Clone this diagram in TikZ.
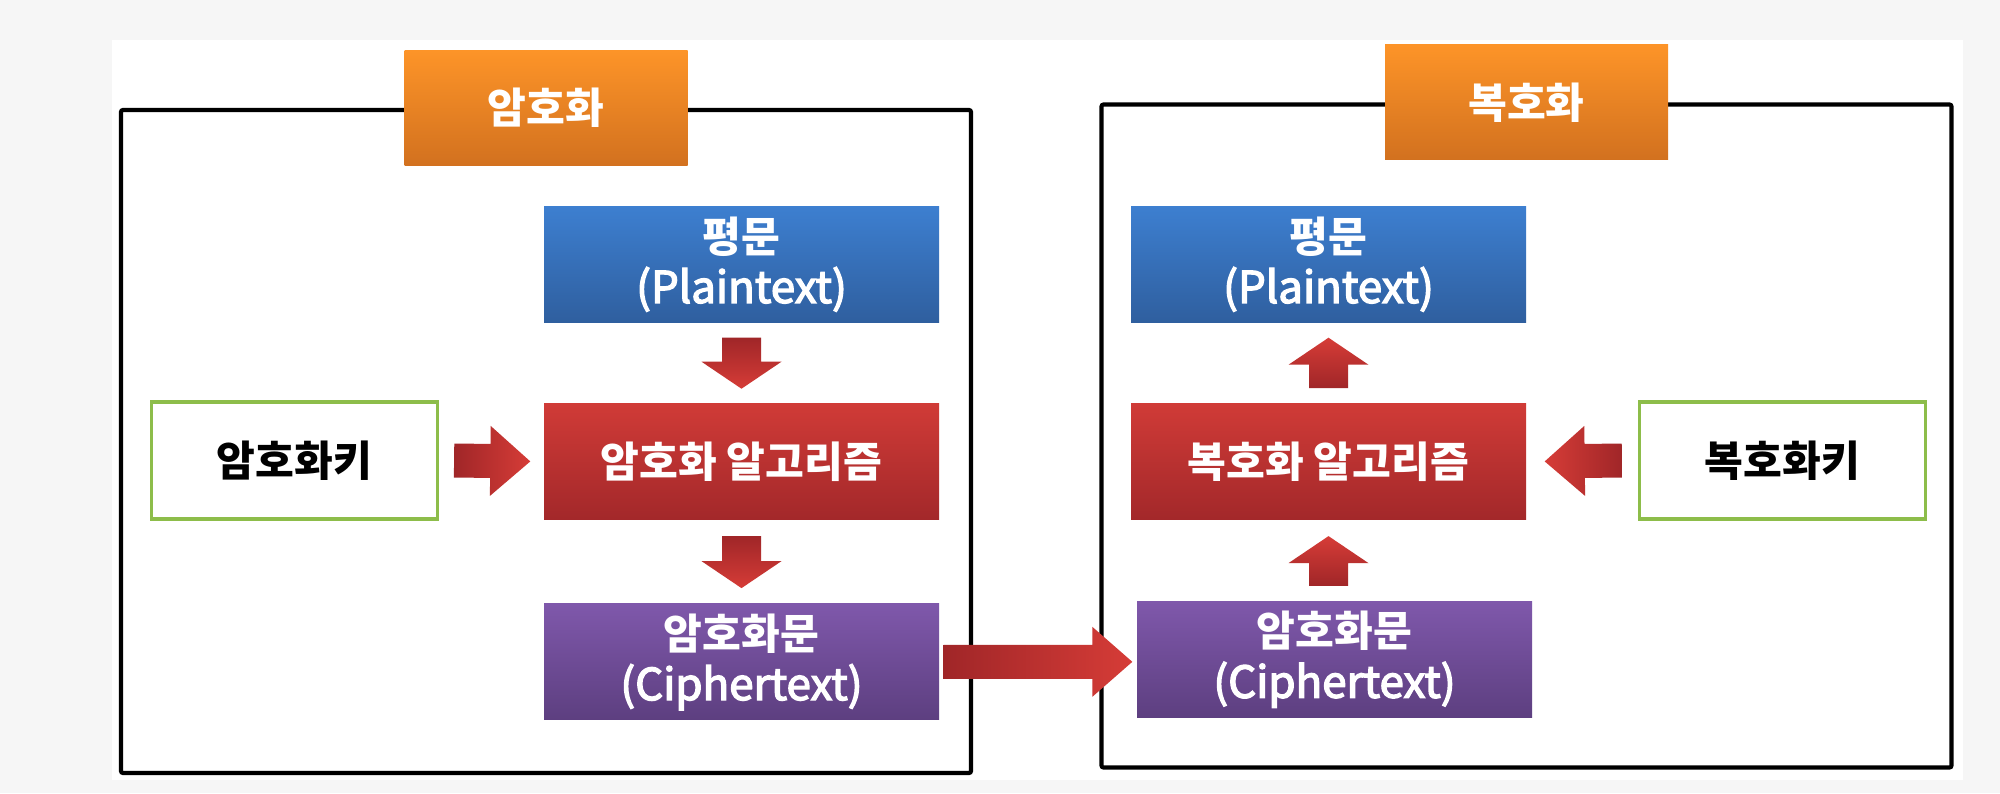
\documentclass[tikz,border=0pt]{standalone}
\usepackage{fontspec}
\newfontfamily\krfont{Noto Sans CJK KR}
\newfontfamily\latfont{Noto Sans CJK KR}[FakeBold=3]
\usepackage{xcolor}
\usepackage{tikz}
\usetikzlibrary{positioning,calc}

\definecolor{pagegray}{HTML}{F6F6F6}
\definecolor{orgtop}{HTML}{FD9428}
\definecolor{orgbot}{HTML}{D2711F}
\definecolor{blutop}{HTML}{3D7FD0}
\definecolor{blubot}{HTML}{2F5F9F}
\definecolor{redtop}{HTML}{D03B37}
\definecolor{redbot}{HTML}{A3282A}
\definecolor{purtop}{HTML}{7F58AB}
\definecolor{purbot}{HTML}{5D3F80}
\definecolor{arrdark}{HTML}{A02628}
\definecolor{arrlight}{HTML}{D63C37}
\definecolor{keygreen}{HTML}{8DBD4A}

% fat block arrow from tail #2 to tip #3, shaded with #1
\newcommand\fashaft{0.17cm}
\newcommand\fahead{0.35cm}
\newcommand\falen{0.4cm}
\newcommand\fatarrow[3]{%
  \coordinate (fa-s) at (#2);
  \coordinate (fa-e) at (#3);
  \coordinate (fa-n) at ($(fa-e)!\falen!(fa-s)$);
  \shade[#1] ($(fa-s)!\fashaft!90:(fa-e)$) -- ($(fa-n)!\fashaft!-90:(fa-s)$)
    -- ($(fa-n)!\fahead!-90:(fa-s)$) -- (fa-e) -- ($(fa-n)!\fahead!90:(fa-s)$)
    -- ($(fa-n)!\fashaft!90:(fa-s)$) -- ($(fa-s)!\fashaft!-90:(fa-e)$) -- cycle;
}
\newcommand\lat[1]{{\latfont\mdseries\fontsize{12.5}{14.5}\selectfont #1}}

\begin{document}
\begin{tikzpicture}[
  every node/.style={font=\krfont\bfseries\fontsize{12}{14.5}\selectfont},
  frame/.style={rectangle,draw=black,line width=1.2pt,rounded corners=0.6pt,
    minimum width=8.5cm,minimum height=6.63cm},
  box/.style={rectangle,inner sep=0pt,minimum width=3.95cm,minimum height=1.16cm,
    align=center,text=white},
  titlebox/.style={box,minimum width=2.83cm,minimum height=1.15cm,
    top color=orgtop,bottom color=orgbot},
  plainbox/.style={box,top color=blutop,bottom color=blubot},
  algbox/.style={box,top color=redtop,bottom color=redbot},
  cipherbox/.style={box,top color=purtop,bottom color=purbot},
  keybox/.style={rectangle,draw=keygreen,line width=0.9pt,fill=white,
    minimum width=2.86cm,minimum height=1.17cm,text=black},
  arr right/.style={left color=arrdark,right color=arrlight},
  arr left/.style={left color=arrlight,right color=arrdark},
  arr down/.style={top color=arrdark,bottom color=arrlight},
  arr up/.style={top color=arrlight,bottom color=arrdark}]

  \fill[pagegray] (0,0) rectangle (20,-7.93);
  \fill[white] (1.12,-0.40) rectangle (19.63,-7.80);
  \useasboundingbox (0,0) rectangle (20,-7.93);

  % encryption
  \node[frame] (encbox) at (5.46,-4.415) {};
  \node[titlebox] (enctitle) at (encbox.north) {암호화};
  \node[plainbox] (plainL) at (7.415,-2.64) {평문\\\lat{(Plaintext)}};
  \node[algbox,below=0.8cm of plainL] (algL) {암호화 알고리즘};
  \node[cipherbox,below=0.83cm of algL] (cipherL) {암호화문\\\lat{(Ciphertext)}};
  \node[keybox] (keyL) at (2.945,-4.605) {암호화키};

  % decryption
  \node[frame] (decbox) at (15.265,-4.36) {};
  \node[titlebox] (dectitle) at (decbox.north) {복호화};
  \node[plainbox] (plainR) at (13.285,-2.64) {평문\\\lat{(Plaintext)}};
  \node[algbox,below=0.8cm of plainR] (algR) {복호화 알고리즘};
  \node[cipherbox] (cipherR) at (13.345,-6.595) {암호화문\\\lat{(Ciphertext)}};
  \node[keybox] (keyR) at (17.825,-4.605) {복호화키};

  % horizontal arrows
  \fatarrow{arr right}{$(keyL.east)+(0.15,0)$}{$(algL.west)+(-0.13,0)$}
  \fatarrow{arr left}{$(keyR.west)+(-0.16,0)$}{$(algR.east)+(0.18,0)$}
  \fatarrow{arr right}{$(cipherL.east)+(0.04,0)$}{$(cipherR.west |- cipherL.east)+(-0.04,0)$}

  % vertical arrows
  \renewcommand\fashaft{0.195cm}
  \renewcommand\fahead{0.4cm}
  \renewcommand\falen{0.27cm}
  \fatarrow{arr down}{$(plainL.south)+(0,-0.15)$}{$(algL.north)+(0,0.14)$}
  \fatarrow{arr down}{$(algL.south)+(0,-0.16)$}{$(cipherL.north)+(0,0.15)$}
  \fatarrow{arr up}{$(algR.north)+(0,0.145)$}{$(plainR.south)+(0,-0.15)$}
  \fatarrow{arr up}{$(algR.south |- cipherR.north)+(0,0.15)$}{$(algR.south)+(0,-0.16)$}
\end{tikzpicture}
\end{document}
